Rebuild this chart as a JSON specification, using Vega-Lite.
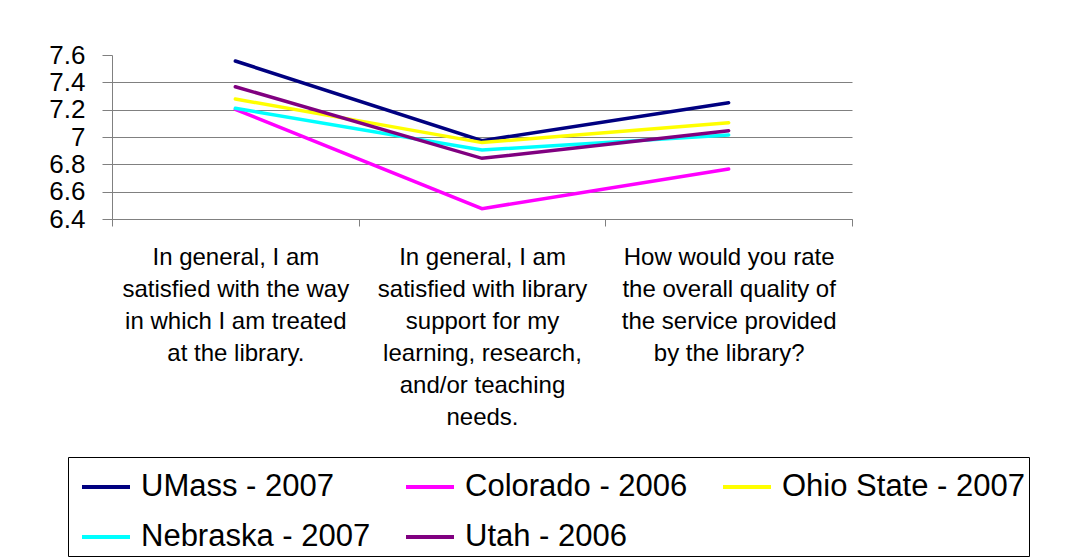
{
  "$schema": "https://vega.github.io/schema/vega-lite/v6.json",
  "autosize": {"type": "none"},
  "padding": {"left": 112, "top": 55, "right": 213, "bottom": 339},
  "width": 740,
  "height": 164,
  "background": "white",
  "data": {
    "values": [
      {"q": "In general, I am|satisfied with the way|in which I am treated|at the library.", "school": "UMass - 2007", "score": 7.556},
      {"q": "In general, I am|satisfied with library|support for my|learning, research,|and/or teaching|needs.", "school": "UMass - 2007", "score": 6.973},
      {"q": "How would you rate|the overall quality of|the service provided|by the library?", "school": "UMass - 2007", "score": 7.251},
      {"q": "In general, I am|satisfied with the way|in which I am treated|at the library.", "school": "Colorado - 2006", "score": 7.202},
      {"q": "In general, I am|satisfied with library|support for my|learning, research,|and/or teaching|needs.", "school": "Colorado - 2006", "score": 6.476},
      {"q": "How would you rate|the overall quality of|the service provided|by the library?", "school": "Colorado - 2006", "score": 6.766},
      {"q": "In general, I am|satisfied with the way|in which I am treated|at the library.", "school": "Ohio State - 2007", "score": 7.278},
      {"q": "In general, I am|satisfied with library|support for my|learning, research,|and/or teaching|needs.", "school": "Ohio State - 2007", "score": 6.959},
      {"q": "How would you rate|the overall quality of|the service provided|by the library?", "school": "Ohio State - 2007", "score": 7.105},
      {"q": "In general, I am|satisfied with the way|in which I am treated|at the library.", "school": "Nebraska - 2007", "score": 7.21},
      {"q": "In general, I am|satisfied with library|support for my|learning, research,|and/or teaching|needs.", "school": "Nebraska - 2007", "score": 6.905},
      {"q": "How would you rate|the overall quality of|the service provided|by the library?", "school": "Nebraska - 2007", "score": 7.015},
      {"q": "In general, I am|satisfied with the way|in which I am treated|at the library.", "school": "Utah - 2006", "score": 7.368},
      {"q": "In general, I am|satisfied with library|support for my|learning, research,|and/or teaching|needs.", "school": "Utah - 2006", "score": 6.844},
      {"q": "How would you rate|the overall quality of|the service provided|by the library?", "school": "Utah - 2006", "score": 7.046}
    ]
  },
  "mark": {"type": "line", "strokeWidth": 3.5, "strokeCap": "round", "strokeJoin": "miter"},
  "encoding": {
    "x": {
      "field": "q",
      "type": "nominal",
      "sort": null,
      "bandPosition": 0.5,
      "scale": {"type": "band", "paddingInner": 0, "paddingOuter": 0},
      "axis": {
        "title": null,
        "labelAngle": 0,
        "labelExpr": "split(datum.label, '|')",
        "labelFont": "Liberation Sans",
        "labelFontSize": 24,
        "labelLineHeight": 32,
        "labelColor": "#000000",
        "labelPadding": 19,
        "labelLimit": 400,
        "tickBand": "extent",
        "tickSize": 7,
        "tickColor": "#808080",
        "domainColor": "#808080",
        "grid": false
      }
    },
    "y": {
      "field": "score",
      "type": "quantitative",
      "scale": {"domain": [6.4, 7.6], "nice": false, "zero": false},
      "axis": {
        "title": null,
        "values": [6.4, 6.6, 6.8, 7.0, 7.2, 7.4, 7.6],
        "format": "~g",
        "labelFont": "Liberation Sans",
        "labelFontSize": 26,
        "labelColor": "#000000",
        "labelPadding": 17,
        "labelOverlap": false,
        "labelBound": false,
        "tickSize": 10,
        "tickColor": "#808080",
        "domainColor": "#808080",
        "grid": true,
        "gridColor": "#808080",
        "gridOpacity": {"condition": {"test": "datum.value > 7.5", "value": 0}, "value": 1}
      }
    },
    "color": {
      "field": "school",
      "type": "nominal",
      "sort": null,
      "scale": {
        "domain": ["UMass - 2007", "Colorado - 2006", "Ohio State - 2007", "Nebraska - 2007", "Utah - 2006"],
        "range": ["#000080", "#FF00FF", "#FFFF00", "#00FFFF", "#800080"]
      },
      "legend": {
        "title": null,
        "orient": "none",
        "legendX": -44,
        "legendY": 402,
        "columns": 3,
        "direction": "horizontal",
        "symbolType": "stroke",
        "symbolSize": 2304,
        "symbolStrokeWidth": 4,
        "symbolOffset": 8,
        "labelFont": "Liberation Sans",
        "labelFontSize": 31,
        "labelColor": "#000000",
        "labelOffset": 9,
        "labelLimit": 400,
        "columnPadding": 25,
        "rowPadding": 9,
        "padding": 4,
        "strokeColor": "#000000",
        "fillColor": "#ffffff"
      }
    }
  },
  "config": {
    "view": {"stroke": null}
  }
}
